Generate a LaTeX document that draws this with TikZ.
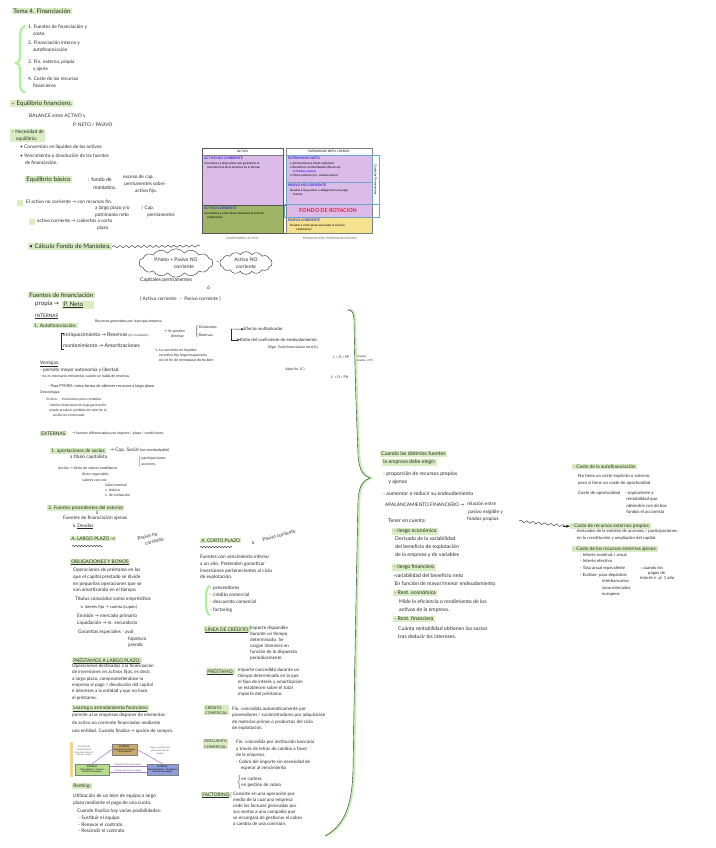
\documentclass[tikz,border=0pt]{standalone}
\usepackage{amsmath}
\usepackage{fontspec}
\setmainfont{Lato}
\newfontfamily\symfont{DejaVu Sans}
\usetikzlibrary{arrows.meta, positioning, shapes.symbols, decorations.pathmorphing}
\definecolor{hlgreen}{HTML}{D8EDC2}
\definecolor{tabpurple}{HTML}{DDBBE9}
\definecolor{tabgreen}{HTML}{9FB464}
\definecolor{tabyellow}{HTML}{F4E28E}
\definecolor{tabblue}{HTML}{2B2BD9}
\definecolor{tabred}{HTML}{DD1F3C}
\definecolor{lineblue}{HTML}{6AA6CC}
\definecolor{ink}{HTML}{2A2A2A}
\definecolor{leasetan}{HTML}{C9AC6C}
\definecolor{leasegreen}{HTML}{B6DC8C}
\definecolor{leaseblue}{HTML}{8E9DD8}
\definecolor{leaseline}{HTML}{A575C8}
\definecolor{leasebar}{HTML}{F1D58E}
\newcommand{\ra}{{\symfont →}}
\newcommand{\hra}{{\symfont ↳}}
\newcommand{\dra}{{\symfont ⇓}}

\begin{document}
\begin{tikzpicture}[x=1pt, y=-1pt,
    txt/.style={anchor=north west, inner sep=0pt, align=left, text=ink, font=\fontsize{4.8}{6.7}\selectfont},
    txtb/.style={txt, font=\fontsize{5.2}{8}\selectfont},
    small/.style={txt, font=\fontsize{3.6}{4.8}\selectfont},
    head/.style={txt, font=\fontsize{6.2}{8}\selectfont},
    hl/.style={fill=hlgreen, inner xsep=1.2pt, inner ysep=0.8pt},
    tab/.style={anchor=north west, inner sep=0pt, align=left, font=\fontsize{3}{3.9}\selectfont},
    tabtitle/.style={tab, text=tabblue, font=\fontsize{3.4}{4}\selectfont\bfseries},
    cloudbox/.style={cloud, draw=ink, cloud puffs=14, cloud puff arc=110, aspect=3, inner sep=1pt, align=center, text=ink, font=\fontsize{5}{6.5}\selectfont},
    leasebox/.style={draw=gray, align=center, inner sep=1pt, font=\fontsize{2.3}{2.8}\selectfont, minimum height=11pt},
    leasetxt/.style={align=center, inner sep=0pt, text=gray!70!black, font=\fontsize{2.3}{2.8}\selectfont},
    flow/.style={-{Stealth[length=3pt]}, ink, thin},
    lease/.style={leaseline, line width=0.5pt},
    wavy/.style={draw=ink, thin, decorate, decoration={snake, amplitude=1.1pt, segment length=6pt}},
    gbrace/.style={draw=hlgreen!80!green, line width=2.2pt, line cap=round}
  ]
  \fill[white] (0,0) rectangle (715,848);
  \useasboundingbox (0,0) rectangle (715,848);

  % indice
  \node[head, hl] (tema) at (12,8) {Tema 4. Financiación};
  \draw[gbrace] (25,26) .. controls (20,27) and (20,35) .. (20,45) -- (20,55) .. controls (20,61) and (18,63) .. (16,63) .. controls (18,63) and (20,65) .. (20,71) -- (20,83) .. controls (20,90) and (22,92) .. (25,92);
  \node[txt] (idx1) at (28,25) {1. Fuentes de financiación y\\\quad coste.};
  \node[txt] (idx2) at (28,41) {2. Financiación interna y\\\quad autofinanciación};
  \node[txt] (idx3) at (28,60) {3. Fin. externa, propia\\\quad y ajena};
  \node[txt] (idx4) at (28,77) {4. Coste de los recursos\\\quad financieros};

  % equilibrio financiero
  \node[head, hl] (equil) at (10,100) {-- Equilibrio financiero.};
  \node[txt] (balance) at (29,114) {BALANCE entre ACTIVO y};
  \node[txt] (pneto1) at (73,123) {P. NETO / PASIVO};
  \node[txt, hl] (necesidad) at (10,129) {-- Necesidad de\\\quad equilibrio:};
  \node[txt] (conv) at (20,145) {• Conversión en liquidez de los activos};
  \node[txt] (venc) at (20,154) {• Vencimiento o devolución de las fuentes\\\quad de financiación.};
  \node[head, hl] (basico) at (25,176) {Equilibrio básico};
  \node[txtb] (fondo) at (88,177) {: fondo de\\\quad maniobra,};
  \node[txt] (exceso) at (123,175) {exceso de cap.\\\ permanentes sobre\\\hspace{12pt}activo fijo.};
  \fill[hlgreen] (17,200) rectangle (23,206);
  \node[txt] (anc) at (26,200) {El activo no corriente \ra{} con recursos fin.};
  \node[txt] (largo1) at (95,206) {a largo plazo y/o\\patrimonio neto};
  \node[txt] (cap1) at (141,206) {/ Cap.\\\hspace{6pt}permanentes};
  \fill[hlgreen] (29,219) rectangle (35,225);
  \node[txt] (ac) at (37,219) {activo corriente \ra{} cubiertos a corto};
  \node[txt] (plazo1) at (97,226) {plazo};

  % tabla del balance
  \fill[tabpurple] (202,155) rectangle (283,205);
  \fill[tabgreen] (202,205) rectangle (283,233);
  \draw[gray] (202,148) rectangle (283,155);
  \draw[ink!80, thick] (202,148) rectangle (283,233);
  \draw[ink!80, thick] (202,205) rectangle (286,233);
  \fill[tabpurple] (286,155) rectangle (372,217);
  \fill[tabyellow] (286,217) rectangle (372,233);
  \draw[gray] (286,148) rectangle (372,233);
  \draw[gray] (286,155) -- (372,155);
  \draw[lineblue] (286,155) rectangle (379,204);
  \draw[lineblue] (284,204) rectangle (379,217);
  \draw[lineblue] (286,182) -- (372,182);
  \draw[lineblue] (372,155) -- (372,204);
  \node[tab, anchor=center] (hdact) at (242.5,151.5) {ACTIVO};
  \node[tab, anchor=center] (hdpas) at (329,151.5) {PATRIMONIO NETO y PASIVO};
  \node[tab, anchor=center, rotate=-90] (capvert) at (375.5,180) {Capitales Permanentes};
  \node[tabtitle] (tanc) at (204,157) {ACTIVO NO CORRIENTE};
  \node[tab] (tanctx) at (204,162) {Inversiones a largo plazo que garantizan la\\\quad permanencia de la empresa en el tiempo};
  \node[tabtitle] (tac) at (204,207) {ACTIVO CORRIENTE};
  \node[tab] (tactx) at (204,212.5) {Inversiones a corto plazo asociadas al ciclo de\\\quad explotación};
  \node[tabtitle] (tpn) at (288,157) {PATRIMONIO NETO};
  \node[tab] (tpntx) at (290,162) {• Aportaciones a título capitalista\\• Beneficios no distribuidos (Reservas)\\\quad{\color{tabblue}\textbf{• Fondos propios}}\\• Otros cambios (p.e. subvenciones)};
  \node[tabtitle] (tpnc) at (288,184) {PASIVO NO CORRIENTE};
  \node[tab] (tpnctx) at (290,189.5) {Deudas a largo plazo u obligaciones de pago\\\quad futuras.};
  \node[anchor=center, inner sep=0pt, text=tabred, font=\fontsize{5.4}{6}\selectfont\bfseries] (rotacion) at (328,210.5) {FONDO DE ROTACION};
  \node[tabtitle] (tpc) at (288,219) {PASIVO CORRIENTE};
  \node[tab] (tpctx) at (290,224.5) {Deudas a corto plazo asociadas al ciclo de\\\qquad explotación.};
  \node[tab, anchor=center, text=gray!70!black] (inver) at (242.5,238) {INVERSIONES=ACTIVO};
  \node[tab, anchor=center, text=gray!70!black] (finan) at (330,238) {FINANCIACIÓN=PATRIMONIO+PASIVO};

  % calculo del fondo de maniobra
  \node[head, hl] (calculo) at (28,243) {• Cálculo Fondo de Maniobra,};
  \coordinate (wavyend) at (200,246);
  \draw[wavy] (calculo.east) -- (wavyend);
  \node[cloudbox, minimum width=74pt, minimum height=20pt] (capperm) at (176,263) {P.Neto + Pasivo NO\\\hspace{16pt}corriente};
  \node[txtb, anchor=center] (menos) at (218,263) {\textbf{--}};
  \node[cloudbox, minimum width=45pt, minimum height=20pt] (actnc) at (246,263) {Activo NO\\corriente};
  \node[txtb] (capitales) at (140,277) {Capitales permanentes};
  \node[txt] (oo) at (207,286) {ó};
  \node[txt] (fmcorr) at (140,297) {( Activo corriente \ -- \ Pasivo corriente )};

  % fuentes propias
  \node[head, hl] (fpropia) at (28,292) {Fuentes de financiación};
  \node[head] (propia) at (35,301) {propia \ra};
  \node[head, hl] (pneto) at (62,301) {\underline{P. Neto}\hspace{10pt}};
  \node[txt] (internas) at (35,314) {\underline{INTERNAS}};
  \node[txt, hl] (autofin) at (33,323) {1. Autofinanciación.};
  \node[small] (recgen) at (95,320) {Recursos generados por la propia empresa};
  \draw[ink, thin] (64,333) -- (61,333) -- (61,349) -- (64,349);
  \node[txtb] (enriq) at (63,333) {enriquecimiento \ra{} Reservas {\fontsize{3}{3.5}\selectfont(bºs no distrib.)}};
  \node[small] (destinar) at (164,330) {\ra{} Se pueden\\\hspace{7pt}destinar};
  \node[small] (divres) at (195,325) {$\left\{\begin{array}{@{}l@{}}\mbox{Dividendos}\\[3pt]\mbox{Reservas}\end{array}\right.$};
  \node[txtb] (mant) at (63,343) {mantenimiento \ra{} Amortizaciones};
  \node[small] (liquidez) at (155,349) {\hra{} La convierte en liquidez\\\quad un activo fijo largo/maquinaria\\\quad con el fin de reemplazar dicho bien};
  \node[small, font=\fontsize{4.4}{5}\selectfont] (efecto) at (244,327) {Efecto multiplicador};
  \node[small, font=\fontsize{4.4}{5}\selectfont] (ratio) at (240,338) {Ratio del coeficiente de endeudamiento};
  \coordinate (brk) at (231,329);
  \draw[flow] (brk) -- (efecto.west);
  \draw[flow] (brk) |- (ratio.west);
  \node[small] (elige) at (268,346) {Elige: Total financiación total (L)};
  \node[small] (lform) at (333,356) {L = D / FP};
  \node[small, font=\fontsize{2.8}{4}\selectfont] (lleg) at (356,355) {(deudas)\\(deudas + FP)};
  \node[small] (valorfin) at (285,368) {Valor fin. (L')};
  \node[small] (lprima) at (331,376) {L' = D / FN};
  \node[txt] (ventajas) at (40,361) {\underline{Ventajas}:};
  \node[txt] (vent1) at (40,368) {- permite mayor autonomía y libertad};
  \node[small] (vent2) at (40,375) {- no es necesario remunerar cuando se habla de reservas};
  \node[small, font=\fontsize{4}{5}\selectfont] (vent3) at (48,384) {- Para PYMES: única forma de obtener recursos a largo plazo};
  \node[small] (desv) at (40,391) {Desventajas:};
  \node[small, font=\fontsize{3.4}{5.3}\selectfont] (desvtx) at (46,398) {Si reinv. -- inversiones poco rentables\\\quad fuentes financieras de baja generación\\\quad puede producir pérdidas de valor de la\\\qquad acción en el mercado.};

  % externas
  \node[txt, hl] (externas) at (40,431) {EXTERNAS};
  \node[small] (extdef) at (72,432) {\ra{} fuentes diferenciadas por importe / plazo / condiciones};
  \node[txt, hl] (socios) at (50,448) {1. aportaciones de socios};
  \node[txt] (capsoc) at (110,448) {\ra{} Cap. Social {\fontsize{3.8}{4}\selectfont(no reembolsable)}};
  \node[txt] (titcap) at (70,455) {a título capitalista};
  \node[small] (partacc) at (138,456) {$\left\{\begin{array}{@{}l@{}}\mbox{participaciones}\\[1pt]\mbox{acciones}\end{array}\right.$};
  \node[small] (accion) at (58,467) {Acción \ra{} título de valores mobiliarios};
  \node[small] (titneg) at (82,473) {título negociable\\[0.6pt]valores con voz};
  \node[small] (valnom) at (105,484) {Valor nominal\\v. teórico\\v. de cotización};
  \node[txt, hl] (exterior) at (47,505) {2. Fuentes procedentes del exterior};
  \node[txt] (flecha) at (95,511) {\dra};
  \node[txt] (ajenas) at (63,516) {Fuentes de financiación ajenas};
  \node[txt] (deudas) at (72,524) {\hra{} \underline{Deudas}};

  % largo plazo
  \node[txt, hl] (largo) at (70,536) {A. LARGO PLAZO \ra};
  \draw[wavy, decoration={snake, amplitude=0.8pt, segment length=3pt}] (72,546) -- (103,546);
  \node[txt, rotate=15] (pnc) at (137,537) {Pasivo no\\\hspace{6pt}corriente};
  \node[txt, hl] (obligac) at (70,559) {\underline{OBLIGACIONES Y BONOS}};
  \node[txt] (obligtx) at (73,568) {Operaciones de préstamo en las\\que el capital prestado se divide\\en pequeñas operaciones que se\\van amortizando en el tiempo};
  \node[txt] (titulos) at (75,597) {Títulos conocidos como empréstitos};
  \node[small, font=\fontsize{4.2}{5}\selectfont] (interes) at (80,605) {\hra{} interés fijo \ra{} cuenta (cupón)};
  \node[txt] (emision) at (77,614) {Emisión \ra{} mercado primario\\Liquidación \ra{} m. secundario};
  \node[txt] (garant) at (78,630) {Garantías especiales - aval};
  \node[txt] (hipot) at (128,636.5) {hipoteca\\prenda};
  \node[txt, hl] (prestlp) at (72,657) {\underline{PRÉSTAMOS A LARGO PLAZO}:};
  \node[txt, font=\fontsize{4.6}{6.3}\selectfont] (prestlptx) at (72,664) {Operaciones destinadas a la financiación\\de inversiones en activos fijos, es decir,\\a largo plazo, comprometiéndose la\\empresa al pago / devolución del capital\\e intereses a la entidad y que no hace\\el préstamo.};
  \node[txt, hl] (leasing) at (72,705) {\underline{Leasing o arrendamiento financiero}:};
  \node[txt, font=\fontsize{4.6}{7.8}\selectfont] (leasingtx) at (72,713) {permite a las empresas disponer de elementos\\de activo no corriente financiados mediante\\una entidad. Cuando finaliza \ra{} opción de compra.};

  % esquema del leasing
  \fill[leasebar] (70,742) rectangle (72.5,777);
  \node[leasebox, fill=leasetan, minimum width=25pt] (ltop) at (124.5,749.5) {EMPRESA\\(Compañía de leasing\\/ Arrendadora)};
  \node[leasebox, fill=leasegreen, minimum width=34pt] (lleft) at (92,769.5) {EMPRESA\\(Arrendataria / Usuaria\\del bien de equipo)};
  \node[leasebox, fill=leaseblue, minimum width=29pt] (lright) at (162.5,769.5) {EMPRESA\\(Suministradora / Vendedora\\del bien de equipo)};
  \node[leasetxt] (lcontrato) at (84,751) {Contrato de\\arrendamiento\\financiero sobre el\\bien de equipo};
  \node[leasetxt] (lpago) at (160,751) {Pago al contado del\\precio del bien de\\equipo};
  \draw[lease] (lleft.north) -- (ltop.west);
  \draw[lease] (ltop.east) -- (lright.north);
  \draw[lease] ([yshift=3pt]lleft.east) -- node[above=0pt, leasetxt] (lpedido) {Pedido del bien de equipo} ([yshift=3pt]lright.west);
  \draw[lease] ([yshift=-3pt]lleft.east) -- node[above=0pt, leasetxt] (lentrega) {Entrega del bien de equipo} ([yshift=-3pt]lright.west);

  \node[txt, hl] (renting) at (72,783) {Renting:};
  \node[txt] (rentingtx) at (73,794) {Utilización de un bien de equipo a largo\\plazo mediante el pago de una cuota.};
  \node[txt] (finaliza) at (77,809) {Cuando finaliza hay varias posibilidades:\\\ - Sustituir el equipo\\\ - Renovar el contrato\\\ - Rescindir el contrato};

  % corto plazo
  \node[txt, hl] (corto) at (200,538) {A. CORTO PLAZO};
  \draw[wavy, decoration={snake, amplitude=0.8pt, segment length=3pt}] (200,547) -- (232,547);
  \node[txt] (cortoarr) at (251,541) {\hra};
  \node[txt, rotate=15] (pcorr) at (262,538) {Pasivo corriente};
  \node[txt] (cortotx) at (200,555) {Fuentes con vencimiento inferior\\a un año. Pretenden garantizar\\inversiones pertenecientes al ciclo\\de explotación.};
  \draw[gbrace] (209,586) .. controls (206,588) and (206,596) .. (206,600) .. controls (206,604) and (206,612) .. (209,615);
  \node[txt] (lista) at (210,586) {- proveedores\\- crédito comercial\\- descuento comercial\\[2pt]- factoring};
  \node[txt, hl] (linea) at (204,626) {\underline{LÍNEA DE CRÉDITO}:};
  \node[txt, font=\fontsize{4.6}{6}\selectfont] (lineatx) at (250,626) {Importe disponible\\durante un tiempo\\determinado. Se\\cargan intereses en\\función de lo dispuesto\\periódicamente.};
  \node[txt, hl] (prestamo) at (206,668) {\underline{PRÉSTAMO}:};
  \node[txt, font=\fontsize{4.6}{6}\selectfont] (prestamotx) at (238,668) {Importe concedido durante un\\tiempo determinado en la que\\el tipo de interés y amortización\\se establecen sobre el total\\importe del préstamo.};
  \node[small, hl, font=\fontsize{3.8}{5}\selectfont] (credcom) at (204,705) {CRÉDITO\\COMERCIAL:};
  \node[txt, font=\fontsize{4.6}{6.3}\selectfont] (credcomtx) at (232,707) {Fin. concedida automáticamente por\\proveedores / suministradores por adquisición\\de materias primas o productos del ciclo\\de explotación.};
  \node[small, hl, font=\fontsize{3.8}{5.5}\selectfont] (desccom) at (203,739) {DESCUENTO\\COMERCIAL:};
  \node[txt, font=\fontsize{4.6}{6.5}\selectfont] (desccomtx) at (236,740) {Fin. concedida por institución bancaria\\a través de letras de cambio a favor\\de la empresa.\\- Cobro del importe sin necesidad de\\\quad esperar al vencimiento};
  \node[txt, font=\fontsize{4.6}{6.5}\selectfont] (cartera) at (237,775) {$\left\{\begin{array}{@{}l@{}}\mbox{en cartera}\\\mbox{en gestión de cobro}\end{array}\right.$};
  \node[txt, hl] (factoring) at (201,792) {\underline{FACTORING}:};
  \node[txt, font=\fontsize{4.6}{6}\selectfont] (factoringtx) at (233,792) {Consiste en una operación por\\medio de la cual una empresa\\cede las facturas generadas por\\sus ventas a una compañía que\\se encargará de gestionar el cobro\\a cambio de una comisión.};

  % llave grande
  \draw[hlgreen!90!green, line width=2pt, xshift=1.2pt] (347,310) .. controls (352,309) and (354,313) .. (354,322) .. controls (355,380) and (357,430) .. (358,455) .. controls (359,470) and (363,476) .. (370,478) .. controls (363,480) and (359,486) .. (358,500) .. controls (356,600) and (354,700) .. (353,770) .. controls (352,805) and (345,825) .. (325,836);
  \draw[ink, thin] (347,310) .. controls (352,309) and (354,313) .. (354,322) .. controls (355,380) and (357,430) .. (358,455) .. controls (359,470) and (363,476) .. (370,478) .. controls (363,480) and (359,486) .. (358,500) .. controls (356,600) and (354,700) .. (353,770) .. controls (352,805) and (345,825) .. (325,836);

  % eleccion de fuentes
  \node[txtb, hl] (cuando) at (380,451) {Cuando las distintas fuentes};
  \node[txtb, hl] (elegir) at (382,459) {la empresa debe elegir:};
  \node[txtb] (proporc) at (383,471) {- proporción de recursos propios\\\quad y ajenos};
  \node[txtb] (aumentar) at (383,491) {- aumentar o reducir su endeudamiento};
  \node[txt] (apal) at (385,503) {APALANCAMIENTO FINANCIERO \ra};
  \node[txt, font=\fontsize{4.8}{7.5}\selectfont] (relacion) at (467,502) {relación entre\\\ pasivo exigible y\\fondos propios};
  \node[txtb] (tener) at (388,519) {Tener en cuenta:};
  \node[txtb, hl] (riesgoe) at (392,528) {- riesgo económico};
  \node[txtb] (riesgoetx) at (395,536) {Derivado de la variabilidad\\del beneficio de explotación\\de la empresa y de variables};
  \node[txtb, hl] (riesgof) at (392,564) {- riesgo financiero};
  \node[txtb] (riesgoftx) at (393,573) {-variabilidad del beneficio neto\\\ En función de mayor/menor endeudamiento};
  \node[txtb, hl] (renteco) at (393,590) {- Rent. económica};
  \node[txtb] (rentecotx) at (399,599) {Mide la eficiencia o rendimiento de los\\activos de la empresa.};
  \node[txtb, hl] (rentfin) at (393,616) {- Rent. financiera};
  \node[txtb] (rentfintx) at (398,626) {Cuánta rentabilidad obtienen los socios\\tras deducir los intereses.};

  % costes
  \node[txt, hl] (costeauto) at (572,464) {- Coste de la autofinanciación};
  \node[txt, font=\fontsize{4.4}{7}\selectfont] (costeautotx) at (578,474) {No tiene un coste explícito o externo\\pero sí tiene un coste de oportunidad};
  \node[txt, font=\fontsize{4.4}{6.5}\selectfont] (oport) at (578,491) {Coste de oportunidad};
  \node[txt, font=\fontsize{4.4}{6.5}\selectfont] (oporttx) at (625,491) {- equivalente a\\\ rentabilidad que\\\ obtendría con dichos\\\ fondos el accionista};
  \node[txt, hl] (costeprop) at (570,523) {- Coste de recursos externos propios:};
  \coordinate (wavystart) at (519,521);
  \draw[wavy] (wavystart) -- ([xshift=-3pt]costeprop.west);
  \draw[-{Stealth[length=4pt]}, ink, thin] ([xshift=-7pt]costeprop.west) -- (costeprop.west);
  \node[txt, font=\fontsize{4.3}{6.5}\selectfont] (costeproptx) at (577,529.5) {derivados de la emisión de acciones / participaciones\\en la constitución y ampliación del capital.};
  \node[txt, hl] (costeaj) at (572,546) {- Coste de los recursos externos ajenos:};
  \node[txt, font=\fontsize{4.3}{6.6}\selectfont] (costeajtx) at (580,553) {- Interés nominal: i anual\\- Interés efectivo\\- Tasa anual equivalente\\- Euribor: para depósitos\\\hspace{22pt}interbancarios\\\hspace{22pt}zona mercados\\\hspace{22pt}europeos};
  \node[txt, font=\fontsize{4.3}{5.2}\selectfont] (taecond) at (640,566) {: cuando los\\\hspace{8pt}pagos de\\interés n $\neq$ 1 año};
\end{tikzpicture}
\end{document}
